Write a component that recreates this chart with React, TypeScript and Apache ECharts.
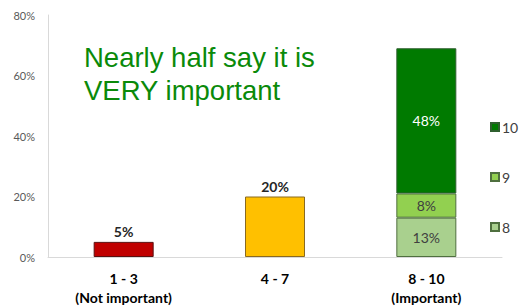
import React, { useEffect, useRef } from "react";
import * as echarts from "echarts";

const categories = ["1 - 3\n(Not important)", "4 - 7", "8 - 10\n(Important)"];
const notImportant = [5, "-", "-"];
const middle = ["-", 20, "-"];
const score8 = ["-", "-", 13];
const score9 = ["-", "-", 8];
const score10 = ["-", "-", 48];
const yTicks = [0, 20, 40, 60, 80];
const titleLines = ["Nearly half say it is", "VERY important"];

export default function App() {
  const ref = useRef<HTMLDivElement>(null);
  useEffect(() => {
    if (!ref.current) return;
    const chart = echarts.init(ref.current, undefined, { renderer: "svg" });
    const font = "Lato, 'Liberation Sans', Arial, sans-serif";
    const innerLabel = (color: string) => ({
      show: true,
      position: "inside",
      formatter: "{c}%",
      color,
      fontSize: 14,
      fontFamily: font,
    });
    const topLabel = {
      show: true,
      position: "top",
      formatter: "{c}%",
      color: "#262626",
      fontWeight: "bold",
      fontSize: 14,
      distance: 3,
      fontFamily: font,
    };
    chart.setOption({
      animation: false,
      backgroundColor: "#ffffff",
      grid: { left: 48, right: 18, top: 15, bottom: 48, containLabel: false },
      legend: {
        data: ["10", "9", "8"],
        orient: "vertical",
        left: 485,
        top: 115,
        icon: "rect",
        itemWidth: 8,
        itemHeight: 8,
        itemGap: 36,
        textStyle: { color: "#404040", fontSize: 14, fontFamily: font, padding: [0, 0, 0, -2] },
      },
      xAxis: {
        type: "category",
        data: categories,
        axisLine: { lineStyle: { color: "#d9d9d9", width: 1 } },
        axisTick: { show: false },
        axisLabel: {
          color: "#000000",
          fontWeight: "bold",
          fontSize: 14,
          lineHeight: 19,
          margin: 12,
          fontFamily: font,
          interval: 0,
        },
      },
      yAxis: {
        type: "value",
        min: yTicks[0],
        max: yTicks[yTicks.length - 1],
        interval: 20,
        splitLine: { show: false },
        axisLine: { show: true, lineStyle: { color: "#d9d9d9", width: 1 } },
        axisTick: { show: false },
        axisLabel: {
          formatter: "{value}%",
          color: "#595959",
          fontSize: 11,
          margin: 13,
          fontFamily: font,
        },
      },
      graphic: [
        {
          type: "text",
          left: 84,
          top: 43,
          style: {
            text: titleLines[0],
            fill: "#0a8a0a",
            fontSize: 27.5,
            fontFamily: "'Liberation Sans', Arial, sans-serif",
          },
        },
        {
          type: "text",
          left: 84,
          top: 76,
          style: {
            text: titleLines[1],
            fill: "#0a8a0a",
            fontSize: 27.5,
            fontFamily: "'Liberation Sans', Arial, sans-serif",
          },
        },
      ],
      series: [
        {
          name: "1 - 3",
          type: "bar",
          stack: "total",
          barWidth: 60,
          data: notImportant,
          itemStyle: { color: "#c00000", borderColor: "#5a1010", borderWidth: 1 },
          label: topLabel,
        },
        {
          name: "4 - 7",
          type: "bar",
          stack: "total",
          barWidth: 60,
          data: middle,
          itemStyle: { color: "#ffc000", borderColor: "#8a6a20", borderWidth: 1 },
          label: topLabel,
        },
        {
          name: "8",
          type: "bar",
          stack: "total",
          barWidth: 60,
          data: score8,
          itemStyle: { color: "#a9d08e", borderColor: "#4f6f3f", borderWidth: 1 },
          label: innerLabel("#404040"),
        },
        {
          name: "9",
          type: "bar",
          stack: "total",
          barWidth: 60,
          data: score9,
          itemStyle: { color: "#92d050", borderColor: "#4f6f3f", borderWidth: 1 },
          label: innerLabel("#404040"),
        },
        {
          name: "10",
          type: "bar",
          stack: "total",
          barWidth: 60,
          data: score10,
          itemStyle: { color: "#007a00", borderColor: "#2f5f2f", borderWidth: 1 },
          label: innerLabel("#ffffff"),
        },
      ],
    });
    return () => chart.dispose();
  }, []);
  return <div ref={ref} style={{ width: 520, height: 307, position: "absolute", left: 0, top: 0 }} />;
}
